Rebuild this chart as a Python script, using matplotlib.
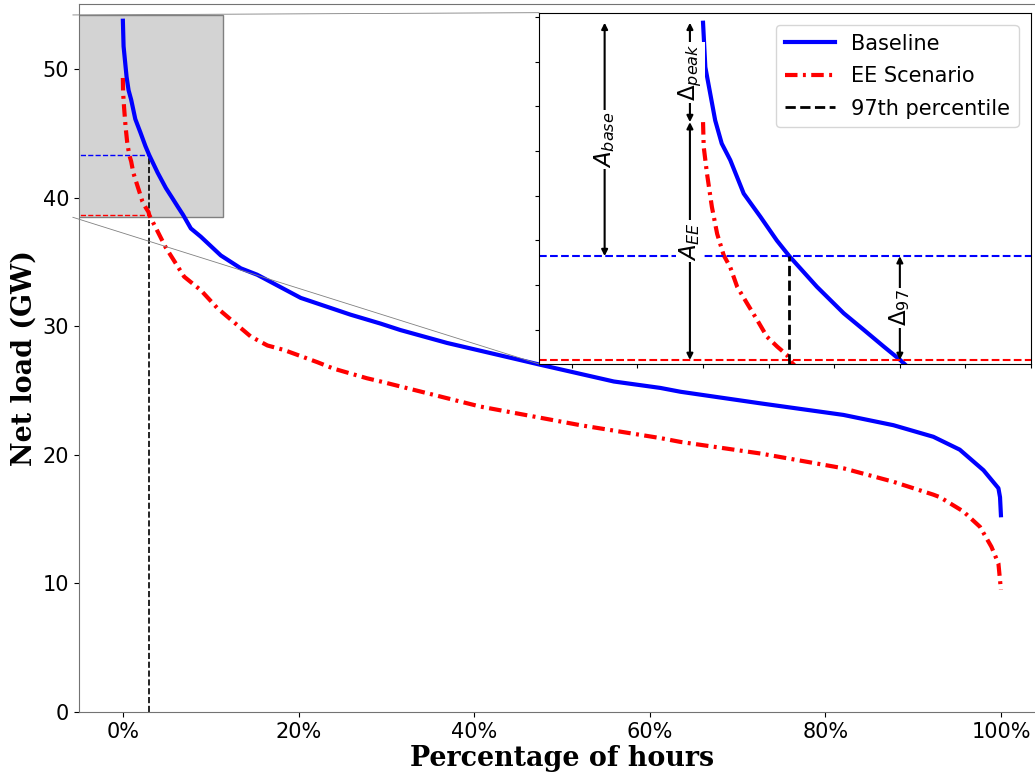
import matplotlib
matplotlib.use("Agg")
import matplotlib.pyplot as plt
from matplotlib.patches import Rectangle, ConnectionPatch
from matplotlib.ticker import PercentFormatter, MultipleLocator

# hours in the year, sorted load duration curves
n_hours = 8760
base_hours = [0, 7, 22, 37, 57, 83, 124, 175, 225, 263, 347, 429, 490, 551, 601,
              678, 777, 977, 1176, 1340, 1774, 2269, 2571, 2768, 3232, 4165,
              4897, 5361, 5563, 6360, 7188, 7687, 8085, 8348, 8585, 8734,
              8750, 8759]
base_load = [53.75, 51.76, 50.57, 49.38, 48.34, 47.6, 46.1, 45.06, 44.0, 43.3,
             41.93, 40.74, 40.0, 39.25, 38.65, 37.6, 36.96, 35.5, 34.5, 34.0,
             32.2, 30.9, 30.2, 29.7, 28.7, 27.0, 25.7, 25.2, 24.9, 24.0, 23.1,
             22.3, 21.4, 20.4, 18.8, 17.4, 16.7, 15.3]

ee_hours = [0, 2, 12, 27, 43, 63, 83, 104, 134, 165, 195, 226, 256, 263, 429,
            611, 777, 943, 1275, 1442, 1607, 1940, 2102, 2435, 2571, 3565,
            4564, 5361, 5563, 6360, 7188, 7687, 8085, 8152, 8383, 8550, 8664,
            8734, 8759]
ee_load = [49.3, 48.2, 47.0, 45.5, 44.3, 43.34, 42.8, 41.93, 41.19, 40.44,
           39.69, 39.25, 38.87, 38.65, 36.1, 33.85, 32.8, 31.4, 29.2, 28.5,
           28.15, 27.2, 26.7, 25.95, 25.7, 23.75, 22.3, 21.3, 21.0, 20.1, 18.95,
           17.9, 16.9, 16.7, 15.6, 14.4, 12.85, 11.55, 9.5]

p97_hour = 263        # 3% of hours
base_p97 = 43.3
ee_p97 = 38.65
base_peak = base_load[0]
ee_peak = ee_load[0]

pct_ticks = [0, 20, 40, 60, 80, 100]

red_dashdot = (0, (3, 1.3, 0.7, 1.3))
fs = 15

fig = plt.figure(figsize=(10.35, 7.73), dpi=100)
ax = fig.add_axes([0.0763, 0.0789, 0.9333, 0.9159])

ax.plot(base_hours, base_load, color='blue', lw=3, label='Baseline', zorder=3)
ax.plot(ee_hours, ee_load, color='red', lw=3, ls=red_dashdot, label='EE Scenario', zorder=3)
ax.hlines(base_p97, -500, p97_hour, colors='blue', linestyles='--', lw=1, zorder=2)
ax.hlines(ee_p97, -500, p97_hour, colors='red', linestyles='--', lw=1, zorder=2)
ax.vlines(p97_hour, 0, base_p97, colors='black', linestyles='--', lw=1.2, zorder=2)

ax.set_xlim(-0.05 * n_hours, 1.05 * n_hours)
ax.set_ylim(0, 55.05)
ax.set_xticks([p / 100 * n_hours for p in pct_ticks])
ax.xaxis.set_major_formatter(PercentFormatter(xmax=n_hours, decimals=0))
ax.tick_params(labelsize=fs)
for sp in ax.spines.values():
    sp.set_color('0.45')
ax.set_xlabel('Percentage of hours', fontfamily='DejaVu Serif', fontweight='bold', fontsize=19.4, labelpad=2)
ax.set_ylabel('Net load (GW)', fontfamily='DejaVu Serif', fontweight='bold', fontsize=19.4, labelpad=4)

# zoomed inset
axins = fig.add_axes([0.5208, 0.5291, 0.4754, 0.4545])
axins.plot(base_hours, base_load, color='blue', lw=3, label='Baseline')
axins.plot(ee_hours, ee_load, color='red', lw=3, ls=red_dashdot, label='EE Scenario')
axins.axhline(base_p97, color='blue', ls='--', lw=1.5)
axins.axhline(ee_p97, color='red', ls='--', lw=1.5)
axins.set_xlim(-500, 1000)
axins.set_ylim(38.47, 54.2)
axins.vlines(p97_hour, 38.47, base_p97, colors='black', linestyles='--', lw=2,
             label='97th percentile')
axins.xaxis.set_major_locator(MultipleLocator(200))
axins.yaxis.set_major_locator(MultipleLocator(2))
axins.tick_params(labelleft=False, labelbottom=False, length=3)
axins.legend(loc='upper right', fontsize=fs, handlelength=2.4, labelspacing=0.6,
             borderaxespad=0.6)


def span_arrow(x, y0, y1, text):
    axins.annotate('', xy=(x, y1), xytext=(x, y0),
                   arrowprops=dict(arrowstyle='<|-|>', color='black', lw=1.5,
                                   shrinkA=0, shrinkB=0, mutation_scale=9))
    axins.text(x, (y0 + y1) / 2, text, rotation=90, ha='center', va='center',
               fontsize=16.5, bbox=dict(facecolor='white', edgecolor='none', pad=1))


span_arrow(-300, base_p97, base_peak, r'$A_{base}$')
span_arrow(-40, ee_peak, base_peak, r'$\Delta_{peak}$')
span_arrow(-40, ee_p97, ee_peak, r'$A_{EE}$')
span_arrow(600, ee_p97, base_p97, r'$\Delta_{97}$')

# zoom indicator on the main axes
x0, x1 = axins.get_xlim()
y0, y1 = axins.get_ylim()
ax.add_patch(Rectangle((x0, y0), x1 - x0, y1 - y0, facecolor='lightgray',
                       edgecolor='0.5', lw=1, zorder=1))
for ya, yb in [(y0, 0), (y1, 1)]:
    con = ConnectionPatch(xyA=(x0, ya), coordsA=ax.transData,
                          xyB=(0, yb), coordsB=axins.transAxes,
                          color='0.5', lw=0.6)
    fig.add_artist(con)

fig.savefig('out.png', dpi=100)
